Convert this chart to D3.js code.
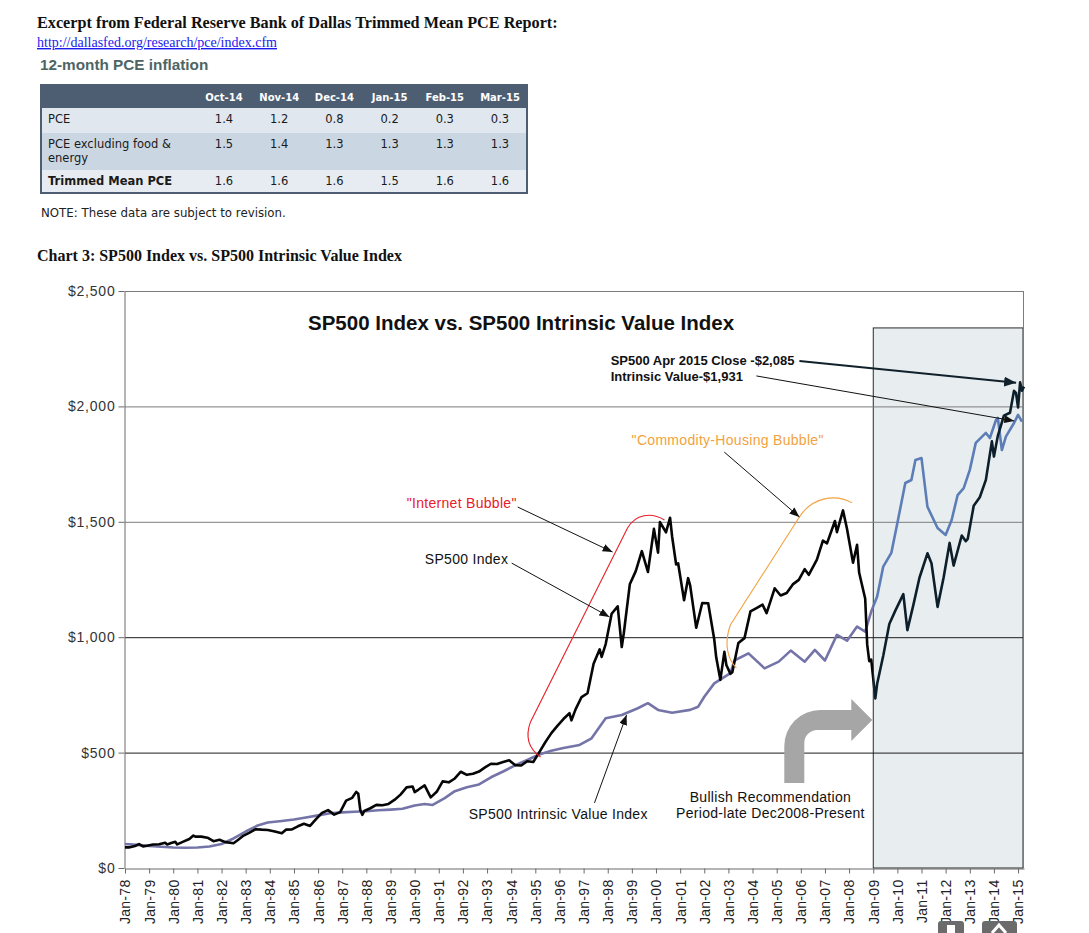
<!DOCTYPE html>
<html>
<head>
<meta charset="utf-8">
<script src="https://cdn.jsdelivr.net/npm/d3@7"></script>
<style>
body { margin: 0; background: #fff; }
svg text { font-family: "Liberation Sans", Arial, sans-serif; }
.serif { font-family: "Liberation Serif", "Times New Roman", serif; }
.tbl text { font-family: "DejaVu Sans", Verdana, sans-serif; font-size: 11.5px; }
.tbl text.hd { font-size: 10px; font-weight: bold; }
.note { font-size: 14px; letter-spacing: 0.3px; fill: #111; }
</style>
</head>
<body>
<svg id="chart" width="1089" height="933"></svg>
<script>
// pce table
var pceMonths = ["Oct-14", "Nov-14", "Dec-14", "Jan-15", "Feb-15", "Mar-15"];
var pceLabels = [["PCE"], ["PCE excluding food &", "energy"], ["Trimmed Mean PCE"]];
var pceHeadline = [1.4, 1.2, 0.8, 0.2, 0.3, 0.3];
var pceCore = [1.5, 1.4, 1.3, 1.3, 1.3, 1.3];
var pceTrimmed = [1.6, 1.6, 1.6, 1.5, 1.6, 1.6];

// y ticks of the chart
var yTicks = [0, 500, 1000, 1500, 2000, 2500];

// SP500 index (month, close)
var sp500 = [
 ["1978-01",89.3],["1978-03",89.2],["1978-06",95.5],["1978-08",103.3],["1978-10",93.2],["1978-12",96.1],
 ["1979-03",101.6],["1979-06",102.9],["1979-09",109.3],["1979-10",101.8],["1979-12",107.9],
 ["1980-02",113.7],["1980-03",102.1],["1980-06",114.2],["1980-09",125.5],["1980-11",140.5],["1980-12",135.8],
 ["1981-03",136.0],["1981-06",131.2],["1981-09",116.2],["1981-12",122.6],
 ["1982-03",112.0],["1982-07",107.1],["1982-09",120.4],["1982-12",140.6],
 ["1983-03",153.0],["1983-06",168.1],["1983-09",166.1],["1983-12",164.9],
 ["1984-03",159.2],["1984-07",150.7],["1984-09",166.1],["1984-12",167.2],
 ["1985-03",180.7],["1985-06",191.9],["1985-09",182.1],["1985-12",211.3],
 ["1986-03",238.9],["1986-06",250.8],["1986-09",231.3],["1986-12",242.2],
 ["1987-03",291.7],["1987-06",304.0],["1987-08",329.8],["1987-09",321.8],["1987-10",251.8],["1987-11",230.3],["1987-12",247.1],
 ["1988-03",258.9],["1988-06",273.5],["1988-09",271.9],["1988-12",277.7],
 ["1989-03",294.9],["1989-06",318.0],["1989-09",349.2],["1989-12",353.4],
 ["1990-01",329.1],["1990-03",339.9],["1990-06",358.0],["1990-09",306.1],["1990-12",330.2],
 ["1991-03",375.2],["1991-06",371.2],["1991-09",387.9],["1991-12",417.1],
 ["1992-03",403.7],["1992-06",408.1],["1992-09",417.8],["1992-12",435.7],
 ["1993-03",451.7],["1993-06",450.5],["1993-09",458.9],["1993-12",466.5],
 ["1994-03",445.8],["1994-06",444.3],["1994-09",462.7],["1994-12",459.3],
 ["1995-03",500.7],["1995-06",544.8],["1995-09",584.4],["1995-12",615.9],
 ["1996-03",645.5],["1996-06",670.6],["1996-07",639.9],["1996-09",687.3],["1996-12",740.7],
 ["1997-03",757.1],["1997-06",885.1],["1997-09",947.3],["1997-10",914.6],["1997-12",970.4],
 ["1998-03",1101.8],["1998-06",1133.8],["1998-08",957.3],["1998-09",1017.0],["1998-12",1229.2],
 ["1999-03",1286.4],["1999-06",1372.7],["1999-09",1282.7],["1999-12",1469.3],
 ["2000-02",1366.4],["2000-03",1498.6],["2000-06",1454.6],["2000-08",1517.7],["2000-09",1436.5],["2000-11",1315.2],["2000-12",1320.3],
 ["2001-03",1160.3],["2001-05",1255.8],["2001-06",1224.4],["2001-09",1040.9],["2001-12",1148.1],
 ["2002-03",1147.4],["2002-06",989.8],["2002-07",911.6],["2002-09",815.3],["2002-11",936.3],["2002-12",879.8],
 ["2003-02",841.2],["2003-03",848.2],["2003-06",974.5],["2003-09",996.0],["2003-12",1111.9],
 ["2004-03",1126.2],["2004-06",1140.8],["2004-08",1104.2],["2004-12",1211.9],
 ["2005-03",1180.6],["2005-06",1191.3],["2005-09",1228.8],["2005-12",1248.3],
 ["2006-03",1294.9],["2006-05",1270.1],["2006-09",1335.9],["2006-12",1418.3],
 ["2007-02",1406.8],["2007-06",1503.4],["2007-07",1455.3],["2007-10",1549.4],["2007-12",1468.4],
 ["2008-03",1322.7],["2008-05",1400.4],["2008-06",1280.0],["2008-09",1166.4],["2008-10",968.8],["2008-11",896.2],["2008-12",903.3],
 ["2009-02",735.1],["2009-03",797.9],["2009-06",919.3],["2009-09",1057.1],["2009-12",1115.1],
 ["2010-04",1186.7],["2010-06",1030.7],["2010-09",1141.2],["2010-12",1257.6],
 ["2011-04",1363.6],["2011-06",1320.6],["2011-09",1131.4],["2011-12",1257.6],
 ["2012-03",1408.5],["2012-05",1310.3],["2012-09",1440.7],["2012-11",1416.2],["2012-12",1426.2],
 ["2013-03",1569.2],["2013-06",1606.3],["2013-09",1681.6],["2013-12",1848.4],
 ["2014-01",1782.6],["2014-03",1872.3],["2014-06",1960.2],["2014-09",1972.3],["2014-11",2067.6],["2014-12",2058.9],
 ["2015-01",1995.0],["2015-02",2104.5],["2015-03",2067.9],["2015-04",2085.5]
];

// SP500 intrinsic value index
var intrinsic = [
 ["1978-01",104],["1978-07",100],["1979-01",96],["1979-07",92],["1980-01",89],["1980-07",88],
 ["1981-01",89],["1981-07",93],["1982-01",104],["1982-07",128],["1983-01",158],["1983-07",184],
 ["1983-12",197],["1984-07",204],["1985-01",210],["1985-07",219],["1986-01",228],["1986-07",237],
 ["1987-01",241],["1987-07",244],["1988-01",246],["1988-07",250],["1989-01",253],["1989-07",257],
 ["1990-01",271],["1990-06",277],["1990-10",273],["1991-04",303],["1991-09",333],["1992-03",350],
 ["1992-09",362],["1993-03",393],["1993-09",418],["1994-03",445],["1994-09",468],["1995-03",492],
 ["1995-09",508],["1996-03",520],["1996-11",533],["1997-05",562],["1997-12",649],["1998-08",663],
 ["1999-04",692],["1999-09",714],["2000-02",685],["2000-09",673],["2001-06",685],["2001-10",699],
 ["2002-01",742],["2002-06",800],["2003-02",844],["2003-04",899],["2003-11",930],["2004-07",865],
 ["2005-02",894],["2005-08",942],["2006-03",894],["2006-08",945],["2007-01",899],["2007-07",1010],
 ["2007-12",985],["2008-05",1046],["2008-09",1024],["2008-12",1111],["2009-03",1176],["2009-06",1306],
 ["2009-10",1365],["2010-01",1495],["2010-05",1668],["2010-08",1681],["2010-10",1768],["2011-01",1776],
 ["2011-04",1565],["2011-09",1473],["2012-01",1443],["2012-04",1508],["2012-07",1616],["2012-10",1646],
 ["2013-01",1725],["2013-04",1842],["2013-09",1885],["2013-11",1863],["2014-02",1941],["2014-03",1950],
 ["2014-05",1811],["2014-07",1869],["2014-11",1928],["2015-01",1963],["2015-03",1934]
];

var bullishStart = "2009-01"; // start of the shaded period
var bullishTop = 2340;

var svg = d3.select("#chart");
var parse = d3.timeParse("%Y-%m");

// ---------- page header ----------
svg.append("text").attr("class", "serif").attr("x", 37).attr("y", 28)
	.style("font-size", "16.2px").style("font-weight", "bold").attr("fill", "#111")
	.text("Excerpt from Federal Reserve Bank of Dallas Trimmed Mean PCE Report:");
svg.append("text").attr("class", "serif").attr("x", 37).attr("y", 47)
	.style("font-size", "14px").attr("fill", "#1a1aee").style("text-decoration", "underline")
	.text("http://dallasfed.org/research/pce/index.cfm");
svg.append("text").attr("x", 40).attr("y", 70)
	.style("font-size", "15.3px").style("font-weight", "bold").attr("fill", "#4d6565")
	.text("12-month PCE inflation");

// ---------- pce table ----------
var tbl = svg.append("g").attr("class", "tbl");
var tLeft = 41, tRight = 527;
var rowTop = [108, 133, 170], rowBot = [133, 170, 193];
var rowFill = ["#e0e7ef", "#cad6e2", "#e7ecf2"];
var colX = d3.scalePoint().domain(pceMonths).range([224, 500]);

tbl.append("rect").attr("x", tLeft).attr("y", 85).attr("width", tRight - tLeft).attr("height", 23).attr("fill", "#4d5e72");
tbl.selectAll(".hd").data(pceMonths).enter().append("text").attr("class", "hd")
	.attr("x", function(d) { return colX(d); }).attr("y", 101)
	.attr("text-anchor", "middle").attr("fill", "#fff")
	.text(function(d) { return d; });

var rowVals = [pceHeadline, pceCore, pceTrimmed];
rowVals.forEach(function(vals, i) {
	tbl.append("rect").attr("x", tLeft).attr("y", rowTop[i]).attr("width", tRight - tLeft)
		.attr("height", rowBot[i] - rowTop[i]).attr("fill", rowFill[i]);
	pceLabels[i].forEach(function(l, j) {
		tbl.append("text").attr("x", 48).attr("y", rowTop[i] + 15 + j * 14)
			.attr("fill", "#1a1a1a").style("font-weight", i == 2 ? "bold" : "normal").text(l);
	});
	tbl.selectAll(".v" + i).data(vals).enter().append("text")
		.attr("x", function(d, k) { return colX(pceMonths[k]); })
		.attr("y", rowTop[i] + 15)
		.attr("text-anchor", "middle").attr("fill", "#1a1a1a")
		.text(function(d) { return d.toFixed(1); });
});
tbl.append("rect").attr("x", tLeft).attr("y", 85).attr("width", tRight - tLeft).attr("height", 108)
	.attr("fill", "none").attr("stroke", "#4d5e72").attr("stroke-width", 2);
tbl.append("text").attr("x", 41).attr("y", 217).attr("fill", "#222").style("font-size", "11.8px")
	.text("NOTE: These data are subject to revision.");

svg.append("text").attr("class", "serif").attr("x", 37).attr("y", 261)
	.style("font-size", "16px").style("font-weight", "bold").attr("fill", "#111")
	.text("Chart 3: SP500 Index vs. SP500 Intrinsic Value Index");

// ---------- chart ----------
var plot = {left: 125, right: 1023, top: 291, bottom: 868};
var x = d3.scaleTime().domain([new Date(1978, 0, 1), new Date(2015, 3, 1)]).range([plot.left, 1024]);
var y = d3.scaleLinear().domain([0, 2500]).range([plot.bottom, plot.top]);

// decimal year -> date, for the annotations
function yr(v) {
	var a = new Date(Math.floor(v), 0, 1), b = new Date(Math.floor(v) + 1, 0, 1);
	return new Date(+a + (v - Math.floor(v)) * (b - a));
}
function P(p) { return [x(yr(p[0])), y(p[1])]; }

// shaded bullish period
var xs = x(parse(bullishStart));
svg.append("rect").attr("x", xs).attr("y", y(bullishTop))
	.attr("width", plot.right - xs).attr("height", y(0) - y(bullishTop))
	.attr("fill", "#e8eef0").attr("stroke", "#2b2b2b").attr("stroke-width", 1);

// grid lines
svg.selectAll(".grid").data(yTicks.slice(1)).enter().append("line")
	.attr("x1", plot.left).attr("x2", plot.right)
	.attr("y1", function(d) { return y(d) + 0.5; }).attr("y2", function(d) { return y(d) + 0.5; })
	.attr("stroke", function(d) { return d <= 1000 ? "#1c1c1c" : "#7c7c7c"; })
	.attr("stroke-width", 1);
svg.append("line").attr("x1", plot.right + 0.5).attr("x2", plot.right + 0.5)
	.attr("y1", plot.top).attr("y2", plot.bottom).attr("stroke", "#7c7c7c");

// axes
var yAxis = svg.append("g").attr("transform", "translate(" + (plot.left - 0.5) + ",0)")
	.call(d3.axisLeft(y).tickValues(yTicks).tickSize(6).tickSizeOuter(0)
		.tickFormat(function(d) { return "$" + d3.format(",")(d); }));
yAxis.select(".domain").attr("stroke", "#6a6a6a");
yAxis.selectAll(".tick line").attr("stroke", "#6a6a6a");
yAxis.selectAll("text").attr("x", -9).style("font-size", "14px").style("letter-spacing", "0.8px")
	.attr("fill", "#333").style("font-family", "'Liberation Sans', Arial, sans-serif");

var xAxis = svg.append("g").attr("transform", "translate(0," + (plot.bottom + 0.5) + ")")
	.call(d3.axisBottom(x).ticks(d3.timeYear.every(1)).tickSize(5).tickSizeOuter(0)
		.tickFormat(d3.timeFormat("Jan-%y")));
xAxis.select(".domain").attr("stroke", "#6a6a6a");
xAxis.selectAll(".tick line").attr("stroke", "#6a6a6a");
xAxis.selectAll("text").attr("transform", "rotate(-90)").attr("text-anchor", "end")
	.attr("x", -11).attr("y", 0).attr("dy", "0.35em")
	.style("font-size", "14px").style("letter-spacing", "0.3px").attr("fill", "#222")
	.style("font-family", "'Liberation Sans', Arial, sans-serif");

// clip paths: before / after the bullish period start
var defs = svg.append("defs");
defs.append("clipPath").attr("id", "pre").append("rect")
	.attr("x", 0).attr("y", 0).attr("width", xs).attr("height", 933);
defs.append("clipPath").attr("id", "post").append("rect")
	.attr("x", xs).attr("y", 0).attr("width", 1089 - xs).attr("height", 933);

var line = d3.line()
	.x(function(d) { return x(parse(d[0])); })
	.y(function(d) { return y(d[1]); });

function drawSeries(data, colPre, colPost) {
	svg.append("path").datum(data).attr("d", line).attr("clip-path", "url(#pre)")
		.attr("fill", "none").attr("stroke", colPre).attr("stroke-width", 2.6).attr("stroke-linejoin", "round");
	svg.append("path").datum(data).attr("d", line).attr("clip-path", "url(#post)")
		.attr("fill", "none").attr("stroke", colPost).attr("stroke-width", 2.6).attr("stroke-linejoin", "round");
}
drawSeries(intrinsic, "#7474a8", "#5d7db7");
drawSeries(sp500, "#060606", "#0c1f2a");

// top frame line
svg.append("line").attr("x1", plot.left).attr("x2", plot.right + 1)
	.attr("y1", plot.top + 0.5).attr("y2", plot.top + 0.5).attr("stroke", "#7c7c7c");

// chart title
svg.append("text").attr("x", 308).attr("y", 330)
	.style("font-size", "20.5px").style("font-weight", "bold").attr("fill", "#111")
	.text("SP500 Index vs. SP500 Intrinsic Value Index");

// ---------- annotations ----------
defs.append("marker").attr("id", "ah").attr("viewBox", "0 0 10 8")
	.attr("refX", 10).attr("refY", 4).attr("markerWidth", 10).attr("markerHeight", 8)
	.attr("markerUnits", "userSpaceOnUse").attr("orient", "auto")
	.append("path").attr("d", "M0,0L10,4L0,8Z").attr("fill", "#111");
defs.append("marker").attr("id", "ah2").attr("viewBox", "0 0 12 10")
	.attr("refX", 12).attr("refY", 5).attr("markerWidth", 12).attr("markerHeight", 10)
	.attr("markerUnits", "userSpaceOnUse").attr("orient", "auto")
	.append("path").attr("d", "M0,0L12,5L0,10Z").attr("fill", "#10212b");

function note(txt, at, color, anchor) {
	var p = P(at);
	return svg.append("text").attr("class", "note").attr("x", p[0]).attr("y", p[1])
		.attr("text-anchor", anchor || "start").style("fill", color || "#111").text(txt);
}
function arrow(from, to, w, mk, col) {
	var a = P(from), b = P(to);
	svg.append("line").attr("x1", a[0]).attr("y1", a[1]).attr("x2", b[0]).attr("y2", b[1])
		.attr("stroke", col || "#111").attr("stroke-width", w || 1)
		.attr("marker-end", "url(#" + (mk || "ah") + ")");
}
function bracket(pts, col) {
	var q = pts.map(P);
	var d = "M" + q[0] + "C" + q[1] + " " + q[2] + " " + q[3] + "L" + q[4] + "C" + q[5] + " " + q[6] + " " + q[7];
	svg.append("path").attr("d", d).attr("fill", "none").attr("stroke", col).attr("stroke-width", 1.1);
}

// internet bubble bracket
bracket([[1995.22, 481], [1994.68, 520], [1994.6, 576], [1994.8, 633],
	[1998.82, 1473], [1999.15, 1534], [1999.81, 1543], [2000.35, 1508]], "#e8202a");
// commodity-housing bubble bracket
bracket([[2003.33, 867], [2003.0, 901], [2002.79, 966], [2003.08, 1053],
	[2005.94, 1521], [2006.44, 1603], [2007.39, 1625], [2008.13, 1582]], "#f2a240");

note("\"Internet Bubble\"", [1989.67, 1560], "#e8202a");
arrow([1994.27, 1564], [1998.2, 1369]);
note("SP500 Index", [1990.42, 1317]);
arrow([1994.02, 1321], [1998.07, 1088]);
note("\"Commodity-Housing Bubble\"", [1998.99, 1833], "#f2a240");
arrow([2002.83, 1802], [2005.94, 1521]);
note("SP500 Intrinsic Value Index", [1992.24, 212]);
arrow([1997.45, 282], [1998.78, 663]);
note("Bullish Recommendation", [2004.74, 286], null, "middle");
note("Period-late Dec2008-Present", [2004.74, 217], null, "middle");

var n1 = note("SP500 Apr 2015 Close -$2,085", [1998.12, 2180]);
n1.style("font-size", "13px").style("font-weight", "bold").style("letter-spacing", "0px");
var n2 = note("Intrinsic Value-$1,931", [1998.12, 2110]);
n2.style("font-size", "13px").style("font-weight", "bold").style("letter-spacing", "0px");
arrow([2005.94, 2197], [2014.92, 2102], 2, "ah2", "#10212b");
arrow([2004.16, 2132], [2014.84, 1937], 1);

// gray bent arrow
var T = P([2008.96, 641]);
var tx = T[0], ty = T[1];
var bent = d3.path();
bent.moveTo(tx - 88, ty + 63);
bent.lineTo(tx - 88, ty + 26);
bent.arcTo(tx - 88, ty - 10, tx - 52, ty - 10, 36);
bent.lineTo(tx - 21, ty - 10);
bent.lineTo(tx - 21, ty - 21);
bent.lineTo(tx, ty);
bent.lineTo(tx - 21, ty + 21);
bent.lineTo(tx - 21, ty + 10);
bent.lineTo(tx - 55, ty + 10);
bent.arcTo(tx - 68, ty + 10, tx - 68, ty + 23, 13);
bent.lineTo(tx - 68, ty + 63);
bent.closePath();
svg.append("path").attr("d", bent.toString()).attr("fill", "#a6a6a6");

// viewer buttons cut at the bottom edge
svg.append("rect").attr("x", 938).attr("y", 921).attr("width", 26).attr("height", 20).attr("rx", 3).attr("fill", "#6b6b6b");
svg.append("rect").attr("x", 947).attr("y", 925).attr("width", 8).attr("height", 8).attr("fill", "#fff");
svg.append("rect").attr("x", 982).attr("y", 921).attr("width", 35).attr("height", 20).attr("rx", 3).attr("fill", "#6b6b6b");
svg.append("path").attr("d", "M992,933L999,925L1006,933").attr("fill", "none").attr("stroke", "#fff").attr("stroke-width", 3);
</script>
</body>
</html>
